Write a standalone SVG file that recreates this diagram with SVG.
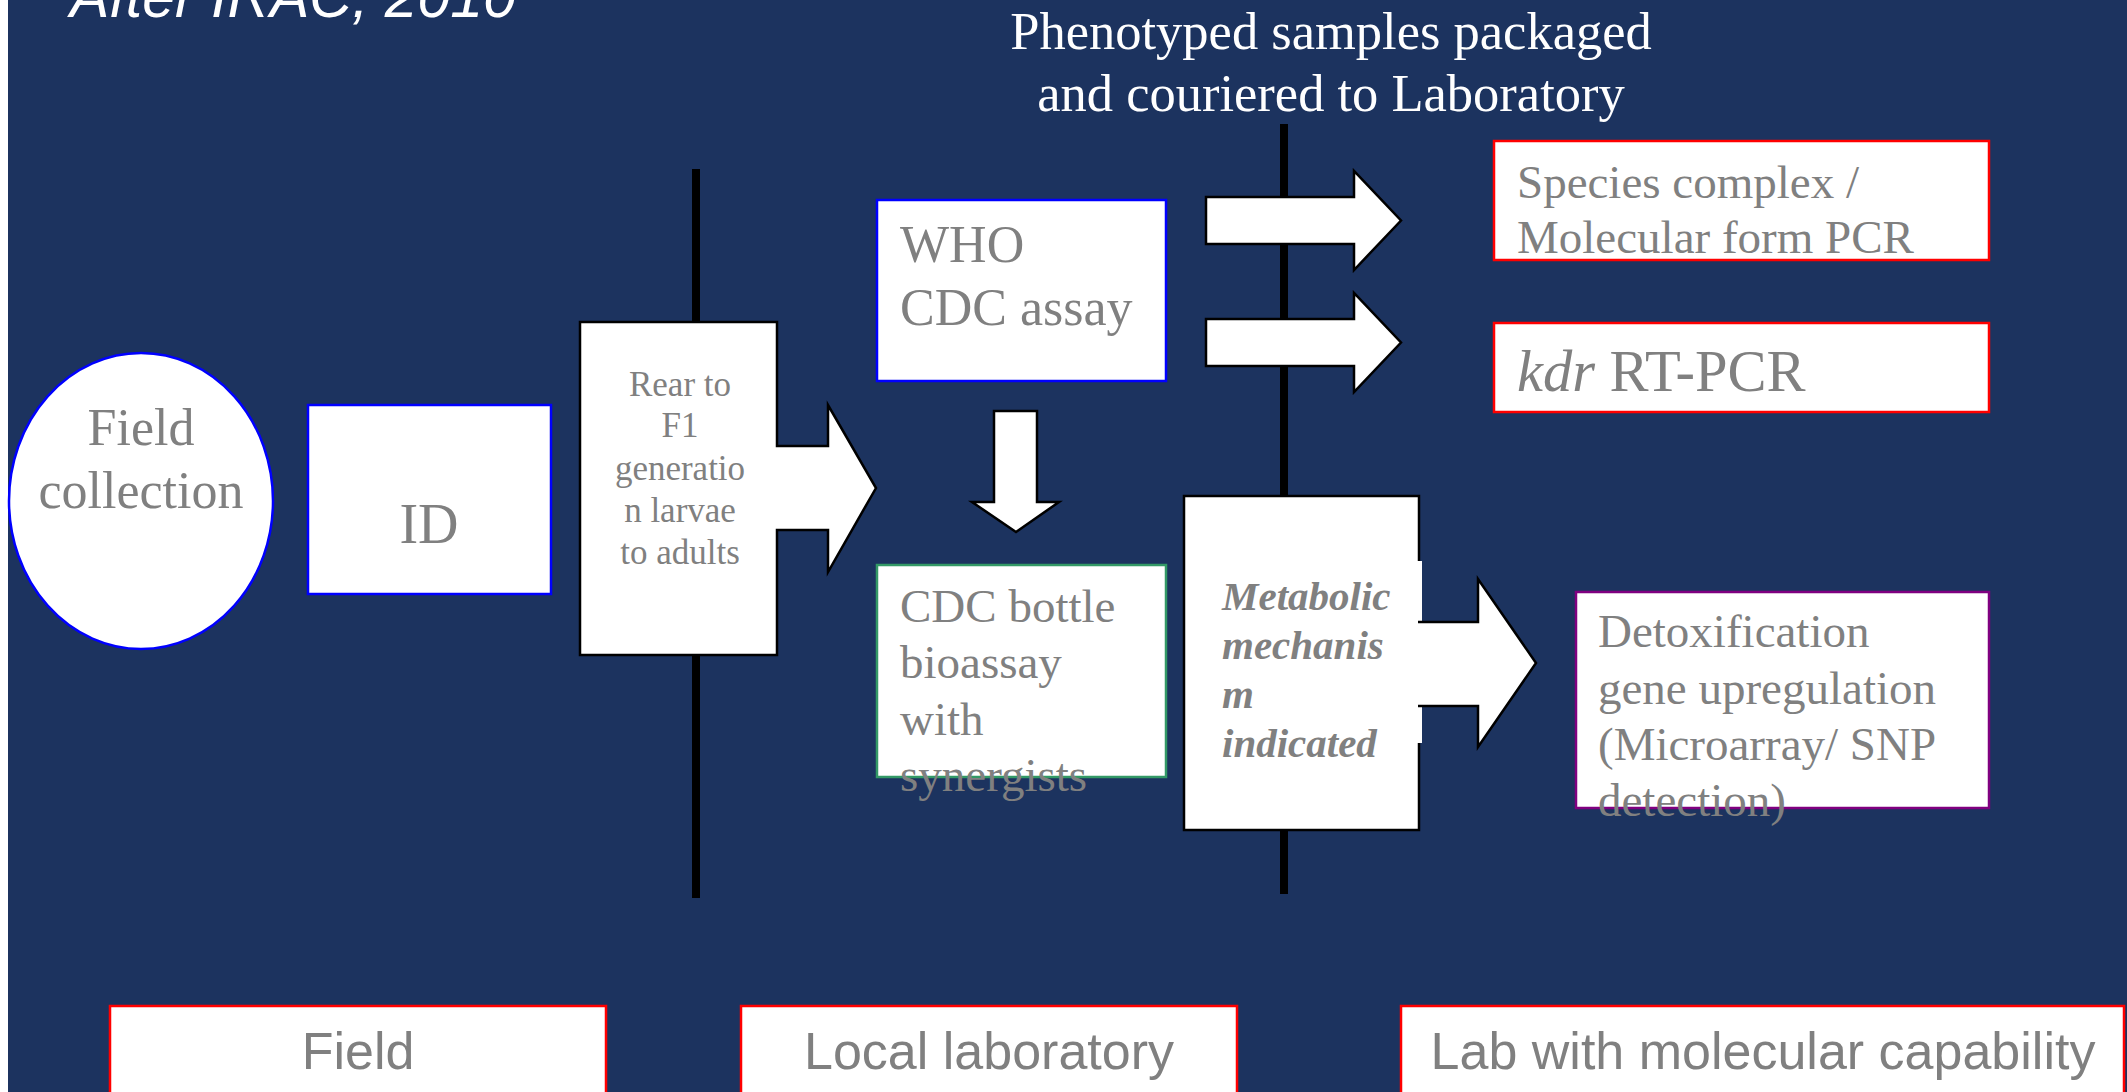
<svg xmlns="http://www.w3.org/2000/svg" width="2127" height="1092" viewBox="0 0 2127 1092">
<style>
.bg{fill:#1C335F}
.serif{font-family:"Liberation Serif","Times New Roman",serif;fill:#808080}
.sans{font-family:"Liberation Sans",Arial,sans-serif;fill:#808080}
.box{fill:#FFFFFF;stroke-width:2.5}
.blue{stroke:#0000FF}
.red{stroke:#FF0000}
.green{stroke:#339966}
.purple{stroke:#800080}
.blk{fill:#FFFFFF;stroke:#000000;stroke-width:2.5;stroke-linejoin:miter}
.vline{stroke:#000000;stroke-width:8}
</style>
<rect x="0" y="0" width="2127" height="1092" fill="#FFFFFF"/>
<rect class="bg" x="8" y="0" width="2119" height="1092"/>
<text x="70" y="17" font-family="Liberation Sans,Arial,sans-serif" font-style="italic" font-size="59" fill="#FFFFFF">After IRAC, 2010</text>
<g id="title" font-family="Liberation Serif,Times New Roman,serif" font-size="52.5" fill="#FFFFFF" text-anchor="middle">
<text x="1331" y="49">Phenotyped samples packaged</text>
<text x="1331" y="111">and couriered to Laboratory</text>
</g>
<g id="connectors">
<line class="vline" x1="696" y1="169" x2="696" y2="898"/>
<line class="vline" x1="1284" y1="124" x2="1284" y2="894"/>
<path class="blk" d="M994,411 H1037 V502 H1059 L1016,532 L972,502 H994 Z"/>
<path class="blk" d="M1206,197 H1354 V171 L1401,220.5 L1354,270 V244 H1206 Z"/>
<path class="blk" d="M1206,319 H1354 V293 L1401,342.5 L1354,392 V366 H1206 Z"/>
</g>
<g id="field-collection">
<ellipse class="box blue" cx="141" cy="501" rx="132" ry="148"/>
<text class="serif" font-size="52" text-anchor="middle"><tspan x="141" y="445">Field</tspan><tspan x="141" y="508">collection</tspan></text>
</g>
<g id="id">
<rect class="box blue" x="308" y="405" width="243" height="189"/>
<text class="serif" font-size="56" text-anchor="middle" x="429" y="543">ID</text>
</g>
<g id="rear">
<path class="blk" d="M580,322 H777 V446 H828 V405 L876,488 L828,572 V530 H777 V655 H580 Z"/>
<text class="serif" font-size="35" text-anchor="middle"><tspan x="680" y="396">Rear to</tspan><tspan x="680" y="437">F1</tspan><tspan x="680" y="480">generatio</tspan><tspan x="680" y="522">n larvae</tspan><tspan x="680" y="564">to adults</tspan></text>
</g>
<g id="who">
<rect class="box blue" x="877" y="200" width="289" height="181"/>
<text class="serif" font-size="52"><tspan x="900" y="262">WHO</tspan><tspan x="900" y="325">CDC assay</tspan></text>
</g>
<g id="cdc-bottle">
<rect class="box green" x="877" y="565" width="289" height="212"/>
<text class="serif" font-size="47"><tspan x="900" y="622">CDC bottle</tspan><tspan x="900" y="678">bioassay</tspan><tspan x="900" y="735">with</tspan><tspan x="900" y="791">synergists</tspan></text>
</g>
<g id="metabolic">
<rect class="blk" x="1184" y="496" width="235" height="334"/>
<rect x="1417" y="561" width="5" height="182" fill="#FFFFFF"/>
<path d="M1418,622 H1478 V579 L1536,663 L1478,747 V706 H1418" fill="#FFFFFF" stroke="#000000" stroke-width="2.5"/>
<text class="serif" font-size="41" font-style="italic" font-weight="bold"><tspan x="1222" y="610">Metabolic</tspan><tspan x="1222" y="659">mechanis</tspan><tspan x="1222" y="708">m</tspan><tspan x="1222" y="757">indicated</tspan></text>
</g>
<g id="species">
<rect class="box red" x="1494" y="141" width="495" height="119"/>
<text class="serif" font-size="47"><tspan x="1517" y="198">Species complex /</tspan><tspan x="1517" y="253">Molecular form PCR</tspan></text>
</g>
<g id="kdr">
<rect class="box red" x="1494" y="323" width="495" height="89"/>
<text class="serif" font-size="58.5" x="1517" y="391"><tspan font-style="italic">kdr</tspan> RT-PCR</text>
</g>
<g id="detox">
<rect class="box purple" x="1576" y="592" width="413" height="216"/>
<text class="serif" font-size="47"><tspan x="1598" y="647">Detoxification</tspan><tspan x="1598" y="704">gene upregulation</tspan><tspan x="1598" y="760">(Microarray/ SNP</tspan><tspan x="1598" y="816">detection)</tspan></text>
</g>
<g id="field">
<rect class="box red" x="110" y="1006" width="496" height="110"/>
<text class="sans" font-size="52" text-anchor="middle" x="358" y="1069">Field</text>
</g>
<g id="local-lab">
<rect class="box red" x="741" y="1006" width="496" height="110"/>
<text class="sans" font-size="52" text-anchor="middle" x="989" y="1069">Local laboratory</text>
</g>
<g id="molecular-lab">
<rect class="box red" x="1401" y="1006" width="723" height="110"/>
<text class="sans" font-size="52" text-anchor="middle" x="1763" y="1069">Lab with molecular capability</text>
</g>
</svg>
